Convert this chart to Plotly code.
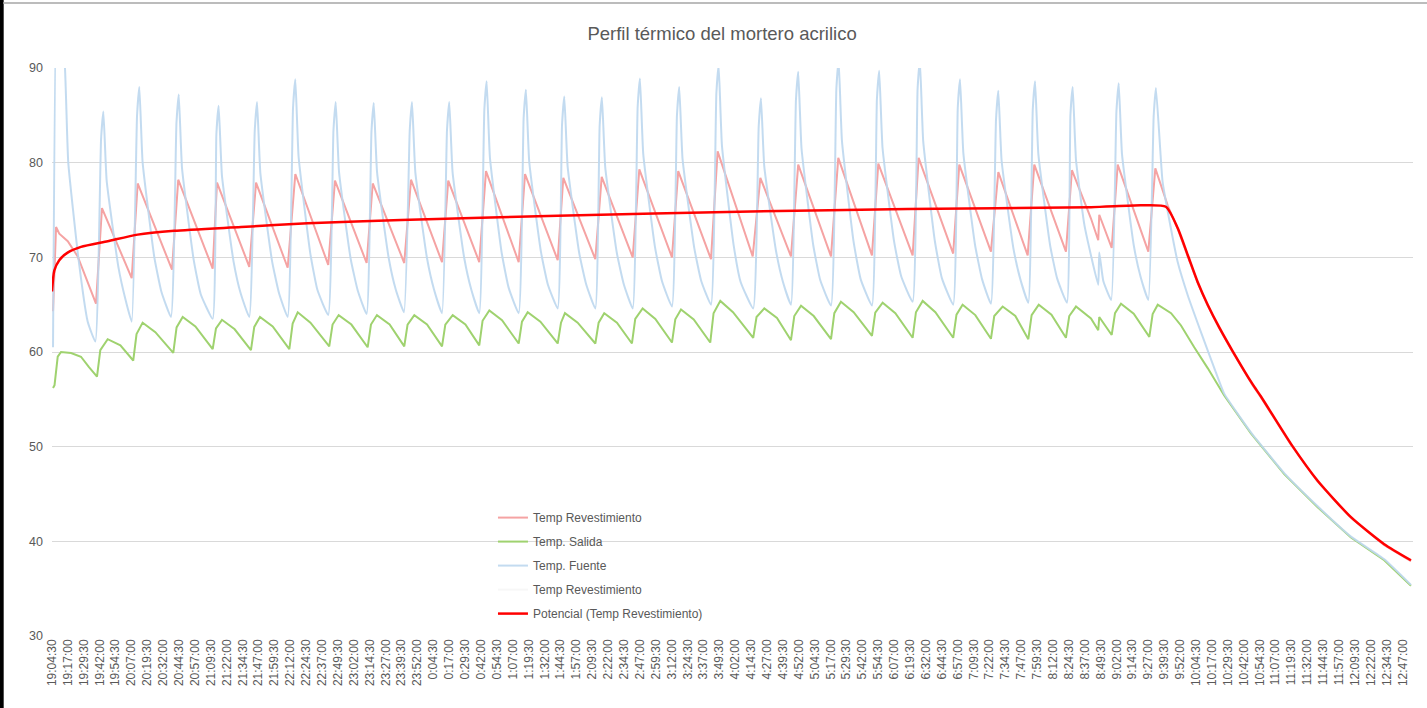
import plotly.graph_objects as go

# x values: minutes elapsed since 19:04:30
rev_t = [0.8, 3.2, 5.7, 12.4, 20.2, 34.6, 39.3, 62.7, 67.4, 94.4, 99.3, 126.4, 129.8, 155.2, 160.5,
         185.4, 191.4, 217.3, 222.6, 247.5, 252.3, 277.1, 282.4, 306.8, 311.7, 336.1, 341.4, 367.1,
         372.1, 397.8, 402.2, 427.4, 432.4, 456.8, 462.0, 487.7, 492.6, 518.4, 523.6, 551.2, 557.2,
         581.3, 587.0, 612.8, 618.5, 645.0, 650.0, 677.0, 681.7, 708.9, 713.7, 738.6, 744.4, 767.5,
         772.7, 797.6, 802.3, 817.3, 823.0, 823.8, 833.6, 838.3, 862.4, 867.9, 877.6, 885.5, 893.4,
         901.2, 909.1, 918.2, 928.7, 944.4, 951.0, 974.6, 995.6, 1021.8, 1048.0, 1069.0]
rev_v = [64.3, 73.2, 72.5, 71.7, 70.1, 65.1, 75.2, 67.8, 77.8, 68.7, 78.2, 68.8, 77.9, 69.0, 77.9,
         68.9, 78.8, 69.2, 78.1, 69.4, 77.8, 69.4, 78.2, 69.5, 78.1, 69.5, 79.1, 69.5,
         78.8, 69.7, 78.4, 69.8, 78.5, 70.0, 79.3, 70.0, 79.1, 69.8, 81.2, 70.1, 78.4,
         70.1, 79.8, 70.1, 80.5, 70.2, 79.9, 70.2, 80.5, 70.4, 79.8, 70.6, 79.0, 70.2,
         79.8, 70.6, 79.2, 74.1, 71.8, 74.5, 71.0, 79.8, 70.6, 79.4, 75.5, 73.0, 70.1,
         67.3, 64.9, 62.5, 60.0, 56.5, 55.2, 50.2, 46.3, 42.5, 39.6, 37.9]

sal_t = [0.8, 2.0, 4.5, 7.1, 15.0, 22.8, 29.1, 35.4,
         38.0, 43.8, 53.8, 63.9, 66.5, 71.3, 81.3, 95.4, 98.0, 102.8, 112.8, 126.4,
         129.0, 133.7, 143.7, 156.5, 159.1, 163.6, 173.6, 186.7, 189.3, 193.3, 203.3, 218.1,
         220.7, 225.5, 235.5, 248.3, 250.9, 255.6, 265.6, 277.1, 279.7, 285.0, 295.0, 306.8,
         309.4, 315.2, 325.2, 336.1, 338.7, 344.0, 354.0, 367.1, 369.7, 374.2, 384.2, 397.8,
         400.4, 403.5, 413.5, 427.4, 430.0, 434.4, 444.4, 456.2, 458.8, 464.6, 474.6, 487.7,
         490.3, 494.8, 504.8, 517.8, 520.4, 525.7, 535.7, 551.6, 554.2, 560.3, 570.3, 581.3,
         583.9, 589.2, 599.2, 612.8, 615.4, 620.6, 630.6, 645.0, 647.6, 653.4, 663.4, 677.0,
         679.6, 684.9, 694.9, 708.9, 711.5, 716.3, 726.3, 738.6, 741.2, 747.8, 757.8, 768.0,
         770.6, 776.2, 786.2, 797.6, 800.2, 805.5, 817.3, 823.0, 823.8, 833.6,
         836.2, 840.9, 850.9, 863.2, 865.8, 869.8, 880.3, 888.1, 898.5, 909.1, 922.1, 943.1,
         969.3, 995.6, 1021.8, 1048.0, 1069.0]
sal_v = [56.2, 56.5, 59.5, 60.0, 59.9, 59.5, 58.4, 57.4,
         60.2, 61.35, 60.7, 59.1, 61.9, 63.1, 62.1, 59.9, 62.6, 63.7, 62.7, 60.3,
         62.5, 63.4, 62.4, 60.2, 62.65, 63.7, 62.7, 60.3, 63.0, 64.2, 63.1, 60.6,
         62.9, 63.9, 62.9, 60.5, 62.9, 63.9, 62.9, 60.6, 62.9, 63.9, 62.9, 60.6,
         62.9, 63.9, 62.9, 60.7, 63.3, 64.4, 63.35, 60.9, 63.2, 64.2, 63.2, 60.9,
         63.1, 64.1, 63.1, 60.9, 63.1, 64.1, 63.1, 60.9, 63.5, 64.6, 63.5, 61.0,
         63.45, 64.5, 63.45, 61.0, 64.1, 65.4, 64.2, 61.5, 63.7, 64.6, 63.6, 61.25,
         63.8, 64.9, 63.8, 61.35, 64.1, 65.3, 64.2, 61.7, 64.15, 65.2, 64.1, 61.5,
         64.2, 65.4, 64.2, 61.5, 63.95, 65.0, 63.9, 61.4, 63.8, 64.8, 63.8, 61.35,
         63.9, 65.0, 63.95, 61.5, 63.8, 64.8, 63.55, 62.3, 63.7, 61.8,
         64.1, 65.1, 64.05, 61.6, 64.0, 65.0, 64.1, 62.8, 60.5, 58.3, 55.4, 51.4,
         47.1, 43.6, 40.4, 38.0, 35.3]

fue_t = [0.8, 3.9, 10.2, 12.8, 20.7, 28.1, 34.1,
         38.6, 40.4, 43.0, 52.2, 57.7, 62.7, 66.9, 68.7, 71.3, 80.5, 86.0, 93.6,
         97.9, 99.7, 102.3, 111.5, 117.0, 126.4, 129.3, 131.1, 133.7, 142.9, 148.4, 155.2,
         159.5, 161.3, 163.9, 173.1, 178.6, 185.4, 189.6, 191.4, 194.0, 203.2, 208.7, 217.3,
         221.4, 223.2, 225.8, 235.0, 240.5, 247.5, 251.3, 253.1, 255.7, 264.9, 270.4, 276.9,
         281.4, 283.2, 285.8, 295.0, 300.5, 306.8, 310.7, 312.5, 315.1, 324.3, 329.8, 336.1,
         340.1, 341.9, 344.5, 353.7, 359.2, 367.1, 371.0, 372.8, 375.4, 384.6, 390.1, 397.8,
         401.2, 403.0, 405.6, 414.8, 420.3, 427.4, 430.8, 432.6, 435.2, 444.4, 449.9, 456.8,
         460.7, 462.5, 465.1, 474.3, 479.8, 487.7, 491.6, 493.4, 496.0, 505.2, 510.7, 518.4,
         522.6, 524.4, 527.0, 536.2, 541.7, 551.6, 555.9, 557.7, 560.3, 569.5, 575.0, 581.3,
         585.2, 587.0, 589.6, 598.8, 604.3, 612.8, 617.0, 618.8, 621.4, 630.6, 636.1, 645.0,
         648.9, 650.7, 653.3, 662.5, 668.0, 677.0, 680.9, 682.7, 685.3, 694.5, 700.0, 708.9,
         712.5, 714.3, 716.9, 726.1, 731.6, 738.6, 742.6, 744.4, 747.0, 756.2, 761.7, 768.0,
         771.5, 773.3, 775.9, 785.1, 790.6, 798.4, 801.1, 802.9, 805.5, 812.0, 817.3, 823.0,
         823.8, 827.0, 833.2, 837.3, 839.1, 841.7, 850.9, 856.4, 862.4, 866.6, 868.4, 873.6,
         880.1, 885.5, 893.4, 903.8, 914.3,
         922.1, 943.1, 969.3, 995.6, 1021.8, 1048.0, 1069.0]
fue_v = [60.5, 100.0, 90.0, 80.0, 70.0, 63.2, 61.1,
         82.5, 85.4, 78.1, 69.0, 65.6, 63.2, 85.0, 88.0, 80.0, 70.0, 66.4, 63.7,
         84.2, 87.2, 79.4, 69.7, 66.1, 63.5, 83.0, 86.0, 78.6, 69.5, 66.2, 63.7,
         83.4, 86.4, 78.9, 69.6, 66.2, 63.7, 85.8, 88.8, 80.6, 70.4, 66.6, 63.9,
         83.4, 86.4, 79.0, 69.8, 66.5, 64.0, 83.3, 86.3, 79.0, 69.9, 66.6, 64.2,
         83.4, 86.4, 79.0, 69.9, 66.6, 64.1, 83.4, 86.4, 79.0, 69.9, 66.6, 64.1,
         85.6, 88.6, 80.5, 70.5, 66.8, 64.1, 84.7, 87.7, 80.1, 70.6, 67.1, 64.6,
         84.0, 87.0, 79.6, 70.4, 67.1, 64.6, 83.9, 86.9, 79.5, 70.4, 67.1, 64.6,
         85.9, 88.9, 80.9, 71.1, 67.5, 64.8, 85.0, 88.0, 80.4, 71.0, 67.5, 65.0,
         87.3, 90.3, 81.8, 71.3, 67.4, 64.6, 83.8, 86.8, 79.6, 70.7, 67.4, 65.0,
         86.6, 89.6, 81.5, 71.3, 67.6, 64.9, 87.8, 90.8, 82.3, 71.6, 67.7, 64.9,
         86.7, 89.7, 81.6, 71.6, 68.0, 65.3, 87.8, 90.8, 82.3, 71.7, 67.8, 65.0,
         85.8, 88.8, 81.0, 71.3, 67.7, 65.1, 84.6, 87.6, 80.2, 71.0, 67.7, 65.2,
         85.6, 88.6, 80.9, 71.3, 67.8, 65.2, 85.0, 88.0, 80.3, 73.5, 70.2, 67.1,
         70.5, 67.5, 65.5, 85.4, 88.4, 80.9, 71.3, 67.9, 65.5, 84.9, 87.9, 78.0,
         73.1, 69.5, 66.0, 62.1, 58.3,
         55.6, 51.5, 47.2, 43.7, 40.5, 38.1, 35.4]

pot_t = [0.0, 1.8, 5.7, 12.3, 22.8, 43.8, 67.4, 96.2, 148.7, 201.1, 274.5, 397.8, 549.8,
         673.1, 817.3, 856.6, 876.2, 885.5, 893.4, 901.2, 909.1, 918.2, 928.7, 944.4, 951.0,
         974.6, 995.6, 1021.8, 1048.0, 1069.0]
pot_v = [66.4, 68.6, 69.7, 70.5, 71.1, 71.7, 72.4, 72.8, 73.2, 73.6, 73.95, 74.4, 74.85,
         75.1, 75.3, 75.5, 75.35, 73.1, 70.25, 67.4, 65.0, 62.6, 60.1, 56.6, 55.3,
         50.3, 46.4, 42.55, 39.7, 38.0]

tick_labels = ["19:04:30", "19:17:00", "19:29:30", "19:42:00", "19:54:30", "20:07:00", "20:19:30",
               "20:32:00", "20:44:30", "20:57:00", "21:09:30", "21:22:00", "21:34:30", "21:47:00",
               "21:59:30", "22:12:00", "22:24:30", "22:37:00", "22:49:30", "23:02:00", "23:14:30",
               "23:27:00", "23:39:30", "23:52:00", "0:04:30", "0:17:00", "0:29:30", "0:42:00",
               "0:54:30", "1:07:00", "1:19:30", "1:32:00", "1:44:30", "1:57:00", "2:09:30",
               "2:22:00", "2:34:30", "2:47:00", "2:59:30", "3:12:00", "3:24:30", "3:37:00",
               "3:49:30", "4:02:00", "4:14:30", "4:27:00", "4:39:30", "4:52:00", "5:04:30",
               "5:17:00", "5:29:30", "5:42:00", "5:54:30", "6:07:00", "6:19:30", "6:32:00",
               "6:44:30", "6:57:00", "7:09:30", "7:22:00", "7:34:30", "7:47:00", "7:59:30",
               "8:12:00", "8:24:30", "8:37:00", "8:49:30", "9:02:00", "9:14:30", "9:27:00",
               "9:39:30", "9:52:00", "10:04:30", "10:17:00", "10:29:30", "10:42:00", "10:54:30",
               "11:07:00", "11:19:30", "11:32:00", "11:44:30", "11:57:00", "12:09:30", "12:22:00",
               "12:34:30", "12:47:00"]
tick_step = 12.5  # minutes between labels
tick_vals = [i * tick_step for i in range(len(tick_labels))]

FONT = "Liberation Sans, Arial, sans-serif"
GREY = "#595959"

fig = go.Figure()
fig.add_trace(go.Scatter(x=rev_t, y=rev_v, mode="lines", name="Temp Revestimiento",
                         line=dict(color="#F5A3A3", width=2), legendgroup="a"))
fig.add_trace(go.Scatter(x=sal_t, y=sal_v, mode="lines", name="Temp. Salida",
                         line=dict(color="#9FD26F", width=2), legendgroup="b"))
fig.add_trace(go.Scatter(x=fue_t, y=fue_v, mode="lines", name="Temp. Fuente",
                         line=dict(color="rgba(189,215,238,0.9)", width=2, shape="spline",
                                   smoothing=0.4), legendgroup="c"))
fig.add_trace(go.Scatter(x=[None], y=[None], mode="lines", name="Temp Revestimiento",
                         line=dict(color="#F7F7F7", width=2), legendgroup="d"))
fig.add_trace(go.Scatter(x=pot_t, y=pot_v, mode="lines", name="Potencial (Temp Revestimiento)",
                         line=dict(color="#FF0000", width=2.5, shape="spline", smoothing=0.6),
                         legendgroup="e"))

fig.update_layout(
    width=1427, height=708,
    margin=dict(l=52, r=14, t=68, b=72),
    paper_bgcolor="white", plot_bgcolor="white",
    font=dict(family=FONT, color=GREY),
    title=dict(text="Perfil térmico del mortero acrilico", x=0.506, xanchor="center",
               y=0.953, yanchor="middle", font=dict(family=FONT, size=18.5, color=GREY)),
    xaxis=dict(range=[0, 1070.6], tickmode="array", tickvals=tick_vals, ticktext=tick_labels,
               tickangle=-90, showgrid=False, zeroline=False, showline=False, ticks="",
               tickfont=dict(family=FONT, size=12, color=GREY)),
    yaxis=dict(range=[30, 90], dtick=10, tick0=30, showgrid=True, gridcolor="#D9D9D9", gridwidth=1,
               zeroline=False, showline=False, ticks="", ticklabelstandoff=8,
               tickfont=dict(family=FONT, size=12.5, color=GREY)),
    legend=dict(x=0.324, xanchor="left", y=0.234, yanchor="top", bgcolor="rgba(0,0,0,0)",
                font=dict(family=FONT, size=12, color=GREY), traceorder="grouped",
                tracegroupgap=5, itemwidth=30),
    shapes=[
        dict(type="rect", xref="paper", yref="paper", x0=-0.0385, x1=-0.0355, y0=-0.13, y1=1.125,
             fillcolor="black", line=dict(width=0), layer="above"),
        dict(type="line", xref="paper", yref="paper", x0=-0.036, x1=1.02, y0=1.1145, y1=1.1145,
             line=dict(color="#A6A6A6", width=1.5)),
    ],
)

fig.write_html("out.html", config={"displayModeBar": False},
               post_script="document.body.style.margin='0px';document.body.style.overflow='hidden';")
